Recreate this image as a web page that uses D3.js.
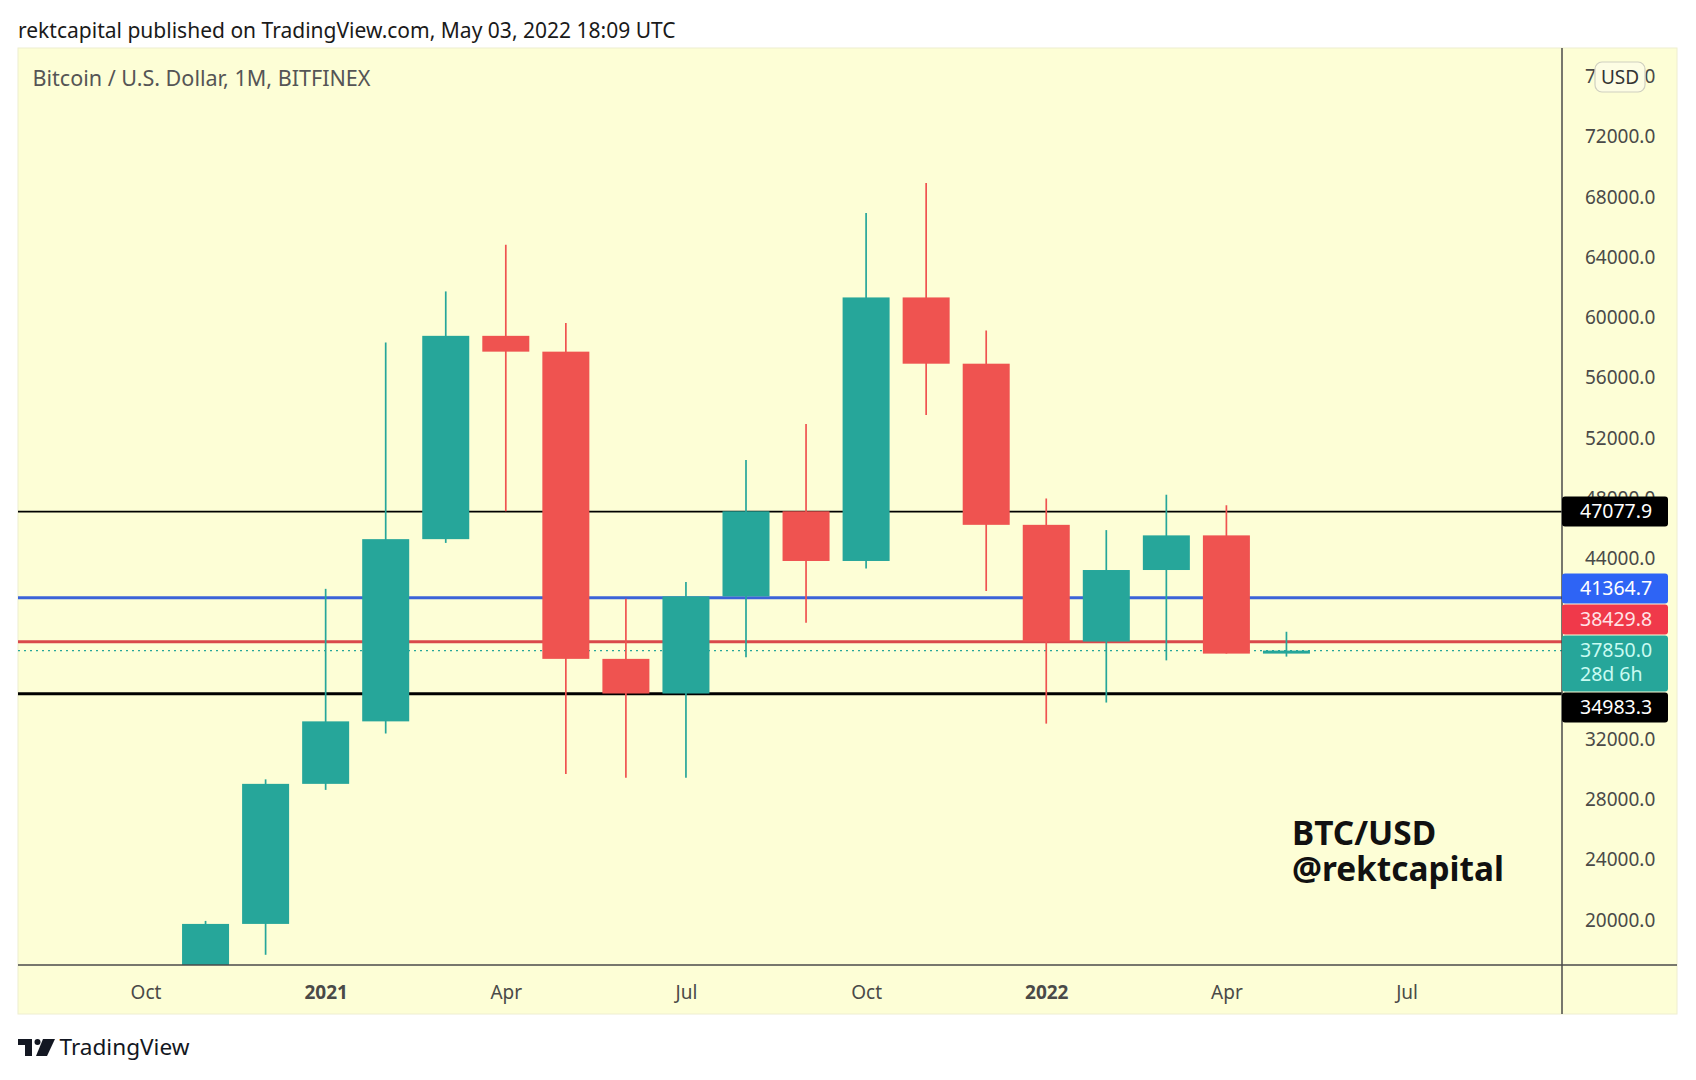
<!DOCTYPE html>
<html>
<head>
<meta charset="utf-8">
<script src="https://d3js.org/d3.v7.min.js"></script>
<style>
  html, body { margin: 0; padding: 0; background: #ffffff; }
  svg { display: block; }
  text { font-family: "Noto Sans", "Open Sans", sans-serif; }
</style>
</head>
<body>
<svg id="chart" width="1696" height="1080"></svg>
<script>
// ---------------- DATA ----------------
// month index: 0 = Oct 2020
const months = ["2020-11","2020-12","2021-01","2021-02","2021-03","2021-04","2021-05","2021-06","2021-07","2021-08","2021-09","2021-10","2021-11","2021-12","2022-01","2022-02","2022-03","2022-04","2022-05"];
const monthIndex = [1,2,3,4,5,6,7,8,9,10,11,12,13,14,15,16,17,18,19];
const openV  = [13780,19700,29000,33150,45250,58750,57700,37300,35000,41450,47100,43800,61300,56900,46200,38450,43200,45500,37650];
const highV  = [19900,29300,41950,58300,61700,64800,59600,41300,42400,50500,52900,66900,68900,59100,47950,45850,48200,47500,39100];
const lowV   = [13200,17650,28600,32350,45000,47100,29650,29400,29400,37400,39700,43300,53500,41800,33000,34400,37200,37650,37450];
const closeV = [19700,29000,33150,45250,58750,57700,37300,35000,41450,47100,43800,61300,56900,46200,38450,43200,45500,37650,37850];

const timeTickIndex  = [0,3,6,9,12,15,18,21];
const timeTickLabels = ["Oct","2021","Apr","Jul","Oct","2022","Apr","Jul"];
const timeTickBold   = [false,true,false,false,false,true,false,false];

// 36000 and 40000 are hidden behind the price tags in the reference
const priceTicks = [20000,24000,28000,32000,44000,48000,52000,56000,60000,64000,68000,72000,76000];

const levelValues = [47077.9, 41364.7, 38429.8, 37850.0, 34983.3];
const levelLabels = ["47077.9","41364.7","38429.8","37850.0","34983.3"];
const levelSub    = [null, null, null, "28d 6h", null];

// ---------------- LAYOUT ----------------
const svg = d3.select("#chart");
const W = 1696, H = 1080;
const panel = {x0: 18, x1: 1677, y0: 48, y1: 1014};
const plot  = {x0: 18, x1: 1562, y0: 48, y1: 965};

const BG = "#fdfed6";
const GREEN = "#26a69a", RED = "#ef5350";

const x = d3.scaleLinear().domain([0, 21]).range([145.5, 145.5 + 21 * 60.05]);
const y = d3.scaleLinear().domain([20000, 72000]).range([919.4, 136.3]);
const bodyW = 47;

svg.append("rect").attr("width", W).attr("height", H).attr("fill", "#ffffff");

// header
const header = svg.append("text")
  .attr("x", 18).attr("y", 38)
  .attr("font-size", 21).attr("fill", "#1a1a1a")
  .text("rektcapital published on TradingView.com, May 03, 2022 18:09 UTC");

// panel
svg.append("rect")
  .attr("x", panel.x0).attr("y", panel.y0)
  .attr("width", panel.x1 - panel.x0).attr("height", panel.y1 - panel.y0)
  .attr("fill", BG).attr("stroke", "#eeeed0").attr("stroke-width", 1);

svg.append("defs").append("clipPath").attr("id", "plotclip")
  .append("rect").attr("x", plot.x0).attr("y", plot.y0)
  .attr("width", plot.x1 - plot.x0).attr("height", plot.y1 - plot.y0);

const g = svg.append("g").attr("clip-path", "url(#plotclip)");

// title
const title = svg.append("text")
  .attr("x", 32.5).attr("y", 86)
  .attr("font-size", 19).attr("fill", "#555555")
  .text("Bitcoin / U.S. Dollar, 1M, BITFINEX");

// watermark
const wm1 = svg.append("text").attr("x", 1292).attr("y", 845)
  .attr("font-size", 34).attr("font-weight", "bold").attr("fill", "#111")
  .text("BTC/USD");
const wm2 = svg.append("text").attr("x", 1292).attr("y", 881)
  .attr("font-size", 34).attr("font-weight", "bold").attr("fill", "#111")
  .text("@rektcapital");

// horizontal levels
const lineStyles = [
  {color: "#000000", w: 1.6, dash: null},
  {color: "#3b63d8", w: 3, dash: null},
  {color: "#d9484b", w: 3, dash: null},
  {color: GREEN, w: 1.3, dash: "2,4"},
  {color: "#000000", w: 3, dash: null}
];
levelValues.forEach((v, i) => {
  const s = lineStyles[i];
  g.append("line")
    .attr("x1", plot.x0).attr("x2", plot.x1)
    .attr("y1", y(v)).attr("y2", y(v))
    .attr("stroke", s.color).attr("stroke-width", s.w)
    .attr("stroke-dasharray", s.dash);
});

// candles
const candles = months.map((m, i) => ({
  m, i: monthIndex[i], o: openV[i], h: highV[i], l: lowV[i], c: closeV[i]
}));
const cg = g.selectAll("g.candle").data(candles).enter().append("g");
cg.append("line")
  .attr("x1", d => x(d.i)).attr("x2", d => x(d.i))
  .attr("y1", d => y(d.h)).attr("y2", d => y(d.l))
  .attr("stroke", d => d.c >= d.o ? GREEN : RED)
  .attr("stroke-width", 1.7);
cg.append("rect")
  .attr("x", d => x(d.i) - bodyW / 2)
  .attr("width", bodyW)
  .attr("y", d => y(Math.max(d.o, d.c)))
  .attr("height", d => Math.max(2, Math.abs(y(d.o) - y(d.c))))
  .attr("fill", d => d.c >= d.o ? GREEN : RED);

// axes lines
svg.append("line").attr("x1", plot.x1).attr("x2", plot.x1)
  .attr("y1", panel.y0).attr("y2", panel.y1)
  .attr("stroke", "#4a4a4a").attr("stroke-width", 1.5);
svg.append("line").attr("x1", panel.x0).attr("x2", panel.x1)
  .attr("y1", plot.y1).attr("y2", plot.y1)
  .attr("stroke", "#4a4a4a").attr("stroke-width", 1.5);

// price axis ticks via d3 axis
const yAxis = d3.axisRight(y).tickValues(priceTicks)
  .tickFormat(d => d3.format(".1f")(d)).tickSize(0).tickPadding(0);
const ya = svg.append("g").attr("transform", `translate(1585,0)`).call(yAxis);
ya.select(".domain").remove();
ya.selectAll("text")
  .attr("font-size", 19).attr("fill", "#4a4a48")
  .attr("font-family", "'Noto Sans', sans-serif")
  .attr("text-anchor", "start").attr("dy", "0.35em").attr("x", 0);

// time axis
const xAxis = d3.axisBottom(x).tickValues(timeTickIndex)
  .tickFormat((d, i) => timeTickLabels[i]).tickSize(0).tickPadding(0);
const xa = svg.append("g").attr("transform", `translate(0,992)`).call(xAxis);
xa.select(".domain").remove();
xa.selectAll("text")
  .attr("font-size", 19).attr("fill", "#4a4a48")
  .attr("font-family", "'Noto Sans', sans-serif")
  .attr("dy", "0.35em").attr("y", 0)
  .attr("font-weight", (d, i) => timeTickBold[i] ? "bold" : "normal");

// price tags (stacked to avoid overlap, anchored at current price)
const tagBg = ["#000000", "#2e64f5", "#f0394a", GREEN, "#000000"];
const tagFg = ["#ffffff", "#ffffff", "#ffe3e6", "#c9fbf2", "#ffffff"];
const tagH = 30, subH = 26;
const tops = new Array(levelValues.length);
const anchor = 3;
tops[anchor] = y(levelValues[anchor]) - tagH / 2;
for (let i = anchor - 1; i >= 0; i--) {
  const desTop = y(levelValues[i]) - tagH / 2;
  const h = tagH + (levelSub[i] ? subH : 0);
  const bottom = Math.min(desTop + h, tops[i + 1] - 1);
  tops[i] = bottom - h;
}
let prevBottom = tops[anchor] + tagH + (levelSub[anchor] ? subH : 0);
for (let i = anchor + 1; i < levelValues.length; i++) {
  const desTop = y(levelValues[i]) - tagH / 2;
  tops[i] = Math.max(desTop, prevBottom + 1);
  prevBottom = tops[i] + tagH + (levelSub[i] ? subH : 0);
}
levelValues.forEach((v, i) => {
  const h = tagH + (levelSub[i] ? subH : 0);
  const tg = svg.append("g");
  tg.append("rect")
    .attr("x", plot.x1).attr("y", tops[i])
    .attr("width", 1668 - plot.x1).attr("height", h)
    .attr("rx", 3).attr("fill", tagBg[i]);
  tg.append("text")
    .attr("x", 1580).attr("y", tops[i] + tagH / 2)
    .attr("dy", "0.35em").attr("font-size", 19.5).attr("fill", tagFg[i])
    .text(levelLabels[i]);
  if (levelSub[i]) {
    tg.append("text")
      .attr("x", 1580).attr("y", tops[i] + tagH + subH / 2 - 4)
      .attr("dy", "0.35em").attr("font-size", 19.5).attr("fill", tagFg[i])
      .text(levelSub[i]);
  }
});

// USD button
svg.append("rect").attr("x", 1595).attr("y", 62).attr("width", 50).attr("height", 30)
  .attr("rx", 7).attr("fill", "#fdfde4").attr("stroke", "#cfcfc0").attr("stroke-width", 1.2);
svg.append("text").attr("x", 1620).attr("y", 77).attr("dy", "0.35em")
  .attr("text-anchor", "middle").attr("font-size", 19).attr("fill", "#333")
  .text("USD");

// footer logo
const logo = svg.append("g").attr("transform", "translate(18,1039)");
logo.append("path").attr("d", "M0,0 H14 V17 H7 V6 H0 Z").attr("fill", "#131722");
logo.append("circle").attr("cx", 19.5).attr("cy", 3).attr("r", 3).attr("fill", "#131722");
logo.append("path").attr("d", "M25,0 H37 L29,17 H18 Z").attr("fill", "#131722");
const footer = svg.append("text").attr("x", 59.5).attr("y", 1055)
  .attr("font-size", 22).attr("fill", "#131722").text("TradingView");

// fit text widths to reference measurements
function fit(sel, target) {
  const w = sel.node().getComputedTextLength();
  const fs = parseFloat(sel.attr("font-size"));
  sel.attr("font-size", (fs * target / w).toFixed(2));
}
fit(header, 658);
fit(title, 338);
fit(wm2, 212);
wm1.attr("font-size", wm2.attr("font-size"));
fit(footer, 130);
</script>
</body>
</html>
